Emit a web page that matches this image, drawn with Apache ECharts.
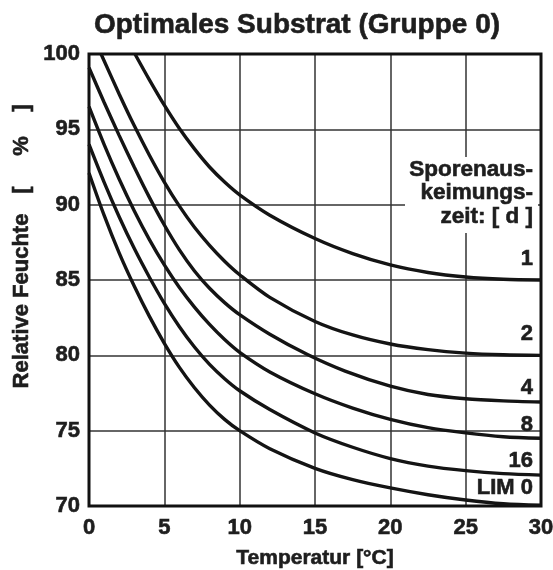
<!DOCTYPE html>
<html>
<head>
<meta charset="utf-8">
<script src="https://cdn.jsdelivr.net/npm/echarts@6/dist/echarts.min.js"></script>
<style>
html,body{margin:0;padding:0;background:#fff;}
#chart{width:553px;height:570px;}
</style>
</head>
<body>
<div id="chart"></div>
<script>
// Temperature [°C] / relative humidity [%] points, one array per curve
const curve1 = [[3.05,100],[4,98.3],[5,96.6],[6,95.05],[7,93.7],[8,92.5],[9,91.5],[10,90.65],[12,89.3],[15,87.75],[17.5,86.75],[20,86.0],[22.5,85.5],[25,85.2],[27.5,85.05],[30,85.0]];
const curve2 = [[0.8,100],[2,97.35],[3,95.25],[4,93.3],[5,91.5],[6,89.9],[7,88.5],[8,87.3],[9,86.25],[10,85.35],[12,83.85],[15,82.25],[17.5,81.35],[20,80.75],[22.5,80.38],[25,80.15],[27.5,80.04],[30,80.0]];
const curve4 = [[0,99.1],[1,96.8],[2,94.6],[3,92.5],[4,90.5],[5,88.65],[6,87.0],[7,85.6],[8,84.45],[9,83.5],[10,82.7],[12,81.4],[14.5,80.05],[17,78.95],[20,77.95],[22.5,77.4],[25,77.12],[27.5,76.98],[30,76.9]];
const curve8 = [[0,96.5],[1,94.0],[2,91.7],[3,89.6],[4,87.7],[5,86.0],[6,84.5],[7,83.2],[8,82.05],[9,81.05],[10,80.2],[12,78.9],[15,77.45],[17.5,76.5],[20,75.75],[22.5,75.2],[25,74.85],[27.5,74.6],[30,74.5]];
const curve16 = [[0,94.0],[1,91.5],[2,89.2],[3,87.1],[4,85.2],[5,83.45],[6,81.9],[7,80.55],[8,79.4],[9,78.45],[10,77.65],[12,76.4],[15,74.85],[17.5,73.9],[20,73.15],[22.5,72.65],[25,72.35],[27.5,72.15],[30,72.05]];
const curveLim0 = [[0,92.1],[1,89.3],[2,86.8],[3,84.6],[4,82.6],[5,80.8],[6,79.2],[7,77.85],[8,76.7],[9,75.75],[10,75.0],[12,73.8],[15,72.5],[17.5,71.75],[20,71.2],[22.5,70.75],[25,70.4],[27.5,70.15],[30,70.05]];

const curveNames = ['1','2','4','8','16','LIM 0'];
const curves = [curve1, curve2, curve4, curve8, curve16, curveLim0];
const xTicks = [0,5,10,15,20,25,30];
const yTicks = [70,75,80,85,90,95,100];

const titleText = 'Optimales Substrat (Gruppe 0)';
const xName = 'Temperatur [°C]';
const legendTitle = 'Sporenaus-\nkeimungs-\nzeit: [ d ]';

const FONT = '"Liberation Sans", Arial, sans-serif';
const TXT = '#1e1e1e';
const BW = 0.6;

const chart = echarts.init(document.getElementById('chart'), null, {renderer:'canvas'});

const labelYs = [259, 334, 388, 425, 461, 488];

function txt(extra) {
  return Object.assign({fill: TXT, stroke: TXT, lineWidth: BW}, extra);
}

const option = {
  backgroundColor: '#fff',
  animation: false,
  grid: {left: 89, top: 54, width: 452, height: 452, outerBoundsMode: 'none', containLabel: false, show: true, borderColor: '#111', borderWidth: 3, backgroundColor: 'transparent', z: 5},
  xAxis: {
    type: 'value', min: xTicks[0], max: xTicks[xTicks.length-1], interval: 5,
    axisLine: {show: false},
    axisTick: {show: false},
    splitLine: {show: true, lineStyle: {color: '#333', width: 1.5}},
    axisLabel: {color: TXT, fontFamily: FONT, fontWeight: 'bold', fontSize: 22, margin: 11, textBorderColor: TXT, textBorderWidth: BW},
    name: xName, nameLocation: 'middle', nameGap: 42,
    nameTextStyle: {color: TXT, fontFamily: FONT, fontWeight: 'bold', fontSize: 21, textBorderColor: TXT, textBorderWidth: BW}
  },
  yAxis: {
    type: 'value', min: yTicks[0], max: yTicks[yTicks.length-1], interval: 5,
    axisLine: {show: false},
    axisTick: {show: false},
    splitLine: {show: true, lineStyle: {color: '#333', width: 1.5}},
    axisLabel: {color: TXT, fontFamily: FONT, fontWeight: 'bold', fontSize: 22, margin: 9, textBorderColor: TXT, textBorderWidth: BW}
  },
  graphic: [
    {type: 'text', x: 297, y: 25, z: 10, style: txt({text: titleText, font: 'bold 28px ' + FONT, align: 'center', verticalAlign: 'middle'})},
    {type: 'text', x: 22, y: 301, rotation: Math.PI/2, z: 10, style: txt({text: 'Relative Feuchte', font: 'bold 22px ' + FONT, align: 'center', verticalAlign: 'middle'})},
    {type: 'text', x: 22, y: 190, rotation: Math.PI/2, z: 10, style: txt({text: '[', font: 'bold 22px ' + FONT, align: 'center', verticalAlign: 'middle'})},
    {type: 'text', x: 22, y: 146, rotation: Math.PI/2, z: 10, style: txt({text: '%', font: 'bold 22px ' + FONT, align: 'center', verticalAlign: 'middle'})},
    {type: 'text', x: 22, y: 108, rotation: Math.PI/2, z: 10, style: txt({text: ']', font: 'bold 22px ' + FONT, align: 'center', verticalAlign: 'middle'})},
    {type: 'rect', z: 8, shape: {x: 405, y: 157, width: 133, height: 76}, style: {fill: '#fff'}},
    {type: 'text', x: 533, y: 158, z: 10, style: txt({text: legendTitle, font: 'bold 22.5px ' + FONT, align: 'right', verticalAlign: 'top', lineHeight: 23.5})}
  ].concat(curveNames.map((n, i) => ({
    type: 'text', x: 533, y: labelYs[i], z: 10,
    style: txt({text: n, font: 'bold 22px ' + FONT, align: 'right', verticalAlign: 'middle'})
  }))),
  series: curves.map((d, i) => ({
    type: 'line', name: curveNames[i], data: d, smooth: 0.3, showSymbol: false, clip: true, z: 6,
    lineStyle: {color: '#141414', width: 3.4}
  }))
};
chart.setOption(option);
</script>
</body>
</html>
